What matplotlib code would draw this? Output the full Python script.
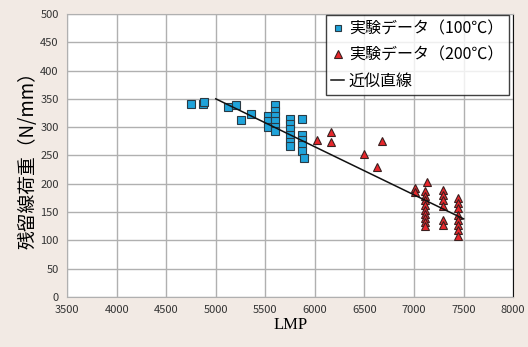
import matplotlib.pyplot as plt

plt.rcParams['font.family'] = ['Noto Sans CJK JP', 'DejaVu Sans']

# 実験データ（100℃）
lmp_100 = [4750, 4870, 4880, 5120, 5200, 5250, 5360,
           5530, 5530, 5530,
           5600, 5600, 5600, 5600, 5600, 5600,
           5750, 5750, 5750, 5750, 5750, 5750,
           5870, 5870, 5870, 5870, 5870, 5890]
load_100 = [340, 340, 345, 336, 339, 313, 323,
            320, 311, 301,
            339, 329, 320, 311, 301, 293,
            314, 305, 296, 286, 274, 266,
            314, 286, 277, 268, 257, 246]

# 実験データ（200℃）
lmp_200 = [6020, 6160, 6160, 6490, 6630, 6680,
           7010, 7010, 7130,
           7110, 7110, 7110, 7110, 7110, 7110, 7110, 7110, 7110,
           7290, 7290, 7290, 7290, 7290, 7290,
           7440, 7440, 7440, 7440, 7440, 7440, 7440, 7440]
load_200 = [277, 292, 273, 252, 230, 276,
            192, 186, 203,
            187, 179, 171, 163, 154, 146, 139, 132, 126,
            189, 180, 171, 160, 136, 127,
            175, 166, 157, 145, 136, 127, 118, 107]

# 近似直線
fit_x = [5000, 7500]
fit_y = [350, 138]

fig = plt.figure(figsize=(5.28, 3.47), dpi=100, facecolor='#f2eae4')
ax = fig.add_axes([0.127, 0.144, 0.845, 0.816])
ax.set_facecolor('white')

ax.plot(lmp_100, load_100, 's', ms=5.6, mfc='#1fa3da', mec='#2a3a44', mew=0.8,
        label='実験データ（100℃）', zorder=3)
ax.plot(lmp_200, load_200, '^', ms=6.2, mfc='#e8262b', mec='#3a2020', mew=0.8,
        label='実験データ（200℃）', zorder=3)
ax.plot(fit_x, fit_y, '-', color='#111111', lw=1.1, label='近似直線', zorder=4)

ax.set_xlim(3500, 8000)
ax.set_ylim(0, 500)
ax.set_xticks(range(3500, 8001, 500))
ax.set_yticks(range(0, 501, 50))
ax.grid(True, color='#b0b0b0', lw=1.0)
ax.set_axisbelow(True)
ax.tick_params(length=0, labelsize=8, colors='#333333', pad=6)
for s in ax.spines.values():
    s.set_color('#b0b0b0')
ax.spines['right'].set_color('#111111')

ax.set_xlabel('LMP', family=['Liberation Serif'], fontsize=12, labelpad=1)
ax.set_ylabel('残留線荷重（N/mm）', fontsize=13.5, labelpad=1)

leg = ax.legend(loc='upper right', bbox_to_anchor=(0.99, 0.995), fontsize=11.5,
                frameon=True, fancybox=False, edgecolor='#111111',
                handlelength=0.8, handletextpad=0.3, borderpad=0.35,
                labelspacing=0.55, borderaxespad=0.0, markerscale=0.85)
leg.get_frame().set_linewidth(1.0)

fig.savefig('out.png', dpi=100, facecolor=fig.get_facecolor())
